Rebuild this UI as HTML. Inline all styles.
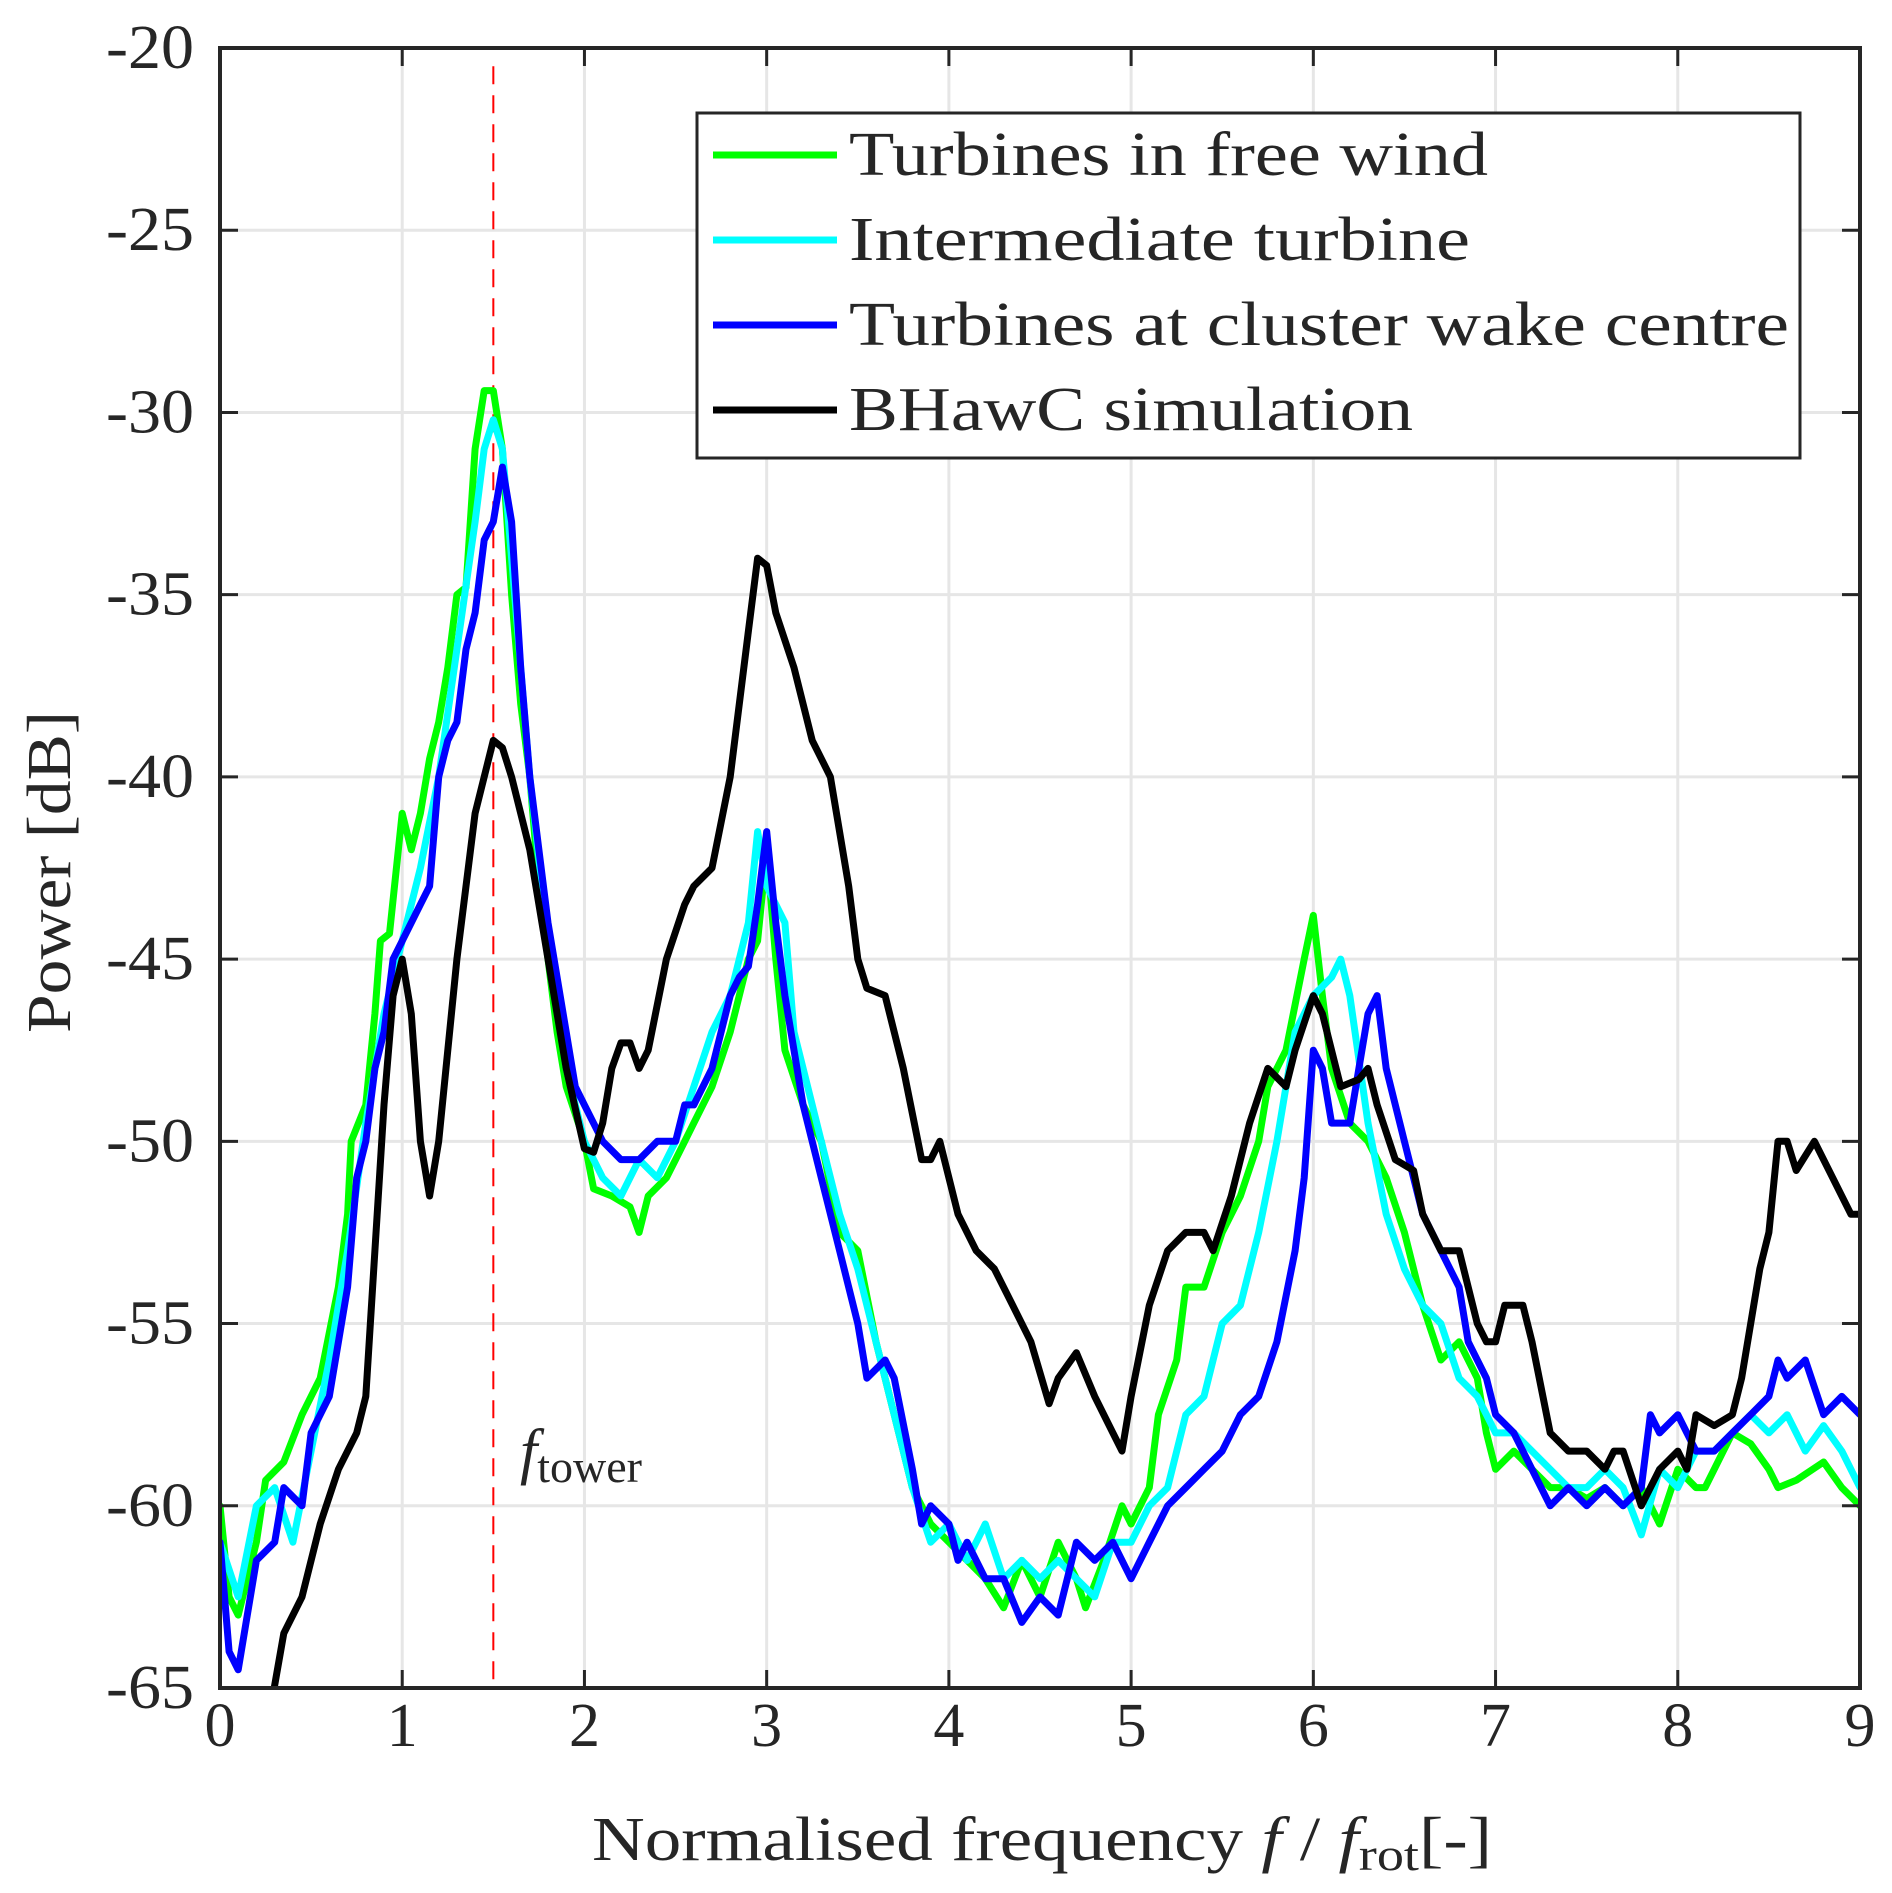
<!DOCTYPE html>
<html><head><meta charset="utf-8"><style>
body{margin:0;background:#fff;width:1892px;height:1888px;overflow:hidden}
svg text{font-family:"Liberation Serif",serif;fill:#262626}
</style></head><body>
<svg id="chart" width="1892" height="1888" xmlns="http://www.w3.org/2000/svg">
<defs><clipPath id="clip"><rect x="220" y="48" width="1640" height="1640"/></clipPath></defs>
<g id="grid"></g>
<g id="series" clip-path="url(#clip)"></g>
<g id="axes"></g>
<text x="520" y="1472" font-size="62" font-style="italic">f<tspan font-style="normal" font-size="46" dy="10">tower</tspan></text>
<text transform="translate(70,872) rotate(-90)" text-anchor="middle" font-size="62" textLength="322" lengthAdjust="spacingAndGlyphs">Power [dB]</text>
<text x="592" y="1860" font-size="62" textLength="900" lengthAdjust="spacingAndGlyphs">Normalised frequency <tspan font-style="italic">f</tspan> / <tspan font-style="italic">f</tspan><tspan font-size="46" dy="10">rot</tspan><tspan dy="-10">[-]</tspan></text>
<g id="legend">
<rect x="697" y="113" width="1103" height="345" fill="#fff" stroke="#262626" stroke-width="3"/>
</g>
</svg>
<script>
const xTicks=[0,1,2,3,4,5,6,7,8,9];
const yTicks=[-20,-25,-30,-35,-40,-45,-50,-55,-60,-65];
const seriesNames=["Turbines in free wind","Intermediate turbine","Turbines at cluster wake centre","BHawC simulation"];
const greenX=[0,0.05,0.1,0.2,0.25,0.35,0.45,0.55,0.65,0.7,0.72,0.8,0.85,0.88,0.93,1.0,1.05,1.1,1.15,1.2,1.25,1.3,1.35,1.4,1.45,1.5,1.55,1.6,1.65,1.7,1.75,1.8,1.85,1.9,2.0,2.05,2.15,2.25,2.3,2.35,2.45,2.5,2.6,2.7,2.8,2.9,2.95,3.0,3.05,3.1,3.2,3.3,3.4,3.5,3.6,3.7,3.8,3.9,4.0,4.1,4.2,4.3,4.4,4.5,4.6,4.7,4.75,4.85,4.95,5.0,5.1,5.15,5.25,5.3,5.4,5.5,5.6,5.7,5.75,5.85,5.95,6.0,6.05,6.1,6.2,6.3,6.4,6.5,6.6,6.7,6.8,6.9,6.95,7.0,7.1,7.2,7.3,7.4,7.5,7.6,7.7,7.8,7.9,8.0,8.1,8.15,8.25,8.3,8.4,8.5,8.55,8.65,8.8,8.9,9.0];
const greenY=[-60,-62.5,-63,-61,-59.3,-58.8,-57.5,-56.5,-54,-52,-50,-49,-46.5,-44.5,-44.3,-41,-42,-41,-39.5,-38.5,-37,-35,-34.8,-31,-29.4,-29.4,-31,-35,-38,-40,-43,-45,-47,-48.5,-50,-51.3,-51.5,-51.8,-52.5,-51.5,-51,-50.5,-49.5,-48.5,-47,-45,-44.5,-42,-45,-47.5,-49,-50,-52.5,-53,-55.5,-57.5,-59.5,-60.5,-61,-61.5,-62,-62.8,-61.5,-62.5,-61,-62,-62.8,-61.5,-60,-60.5,-59.5,-57.5,-56,-54,-54,-52.5,-51.5,-50,-48.5,-47.5,-45,-43.8,-46,-48,-49.5,-50,-51,-52.5,-54.5,-56,-55.5,-56.5,-58,-59,-58.5,-59,-59.5,-59.5,-59.8,-59.5,-60,-59.5,-60.5,-59,-59.5,-59.5,-58.5,-58,-58.3,-59,-59.5,-59.3,-58.8,-59.5,-60];
const cyanX=[0,0.1,0.2,0.3,0.4,0.5,0.6,0.7,0.8,0.9,1.0,1.1,1.2,1.3,1.4,1.45,1.5,1.55,1.6,1.65,1.7,1.8,1.9,2.0,2.1,2.2,2.3,2.4,2.5,2.6,2.7,2.8,2.9,2.95,3.0,3.1,3.15,3.3,3.4,3.5,3.6,3.7,3.8,3.9,4.0,4.1,4.2,4.3,4.4,4.5,4.6,4.7,4.8,4.9,5.0,5.1,5.2,5.3,5.4,5.5,5.6,5.7,5.8,5.9,6.0,6.1,6.15,6.2,6.3,6.4,6.5,6.6,6.7,6.8,6.9,7.0,7.1,7.2,7.3,7.4,7.5,7.6,7.7,7.8,7.9,8.0,8.1,8.2,8.3,8.4,8.5,8.6,8.7,8.8,8.9,9.0];
const cyanY=[-61,-62.5,-60,-59.5,-61,-58.5,-56,-53,-49.5,-46.5,-44.5,-42.5,-40,-36.5,-33,-31,-30.2,-31,-34,-37,-40,-44.5,-48,-50,-51,-51.5,-50.5,-51,-50,-48.5,-47,-46,-44,-41.5,-43,-44,-47,-50,-52,-53.5,-55.5,-57.5,-59.5,-61,-60.5,-61.5,-60.5,-62,-61.5,-62,-61.5,-62,-62.5,-61,-61,-60,-59.5,-57.5,-57,-55,-54.5,-52.5,-50,-47,-46,-45.5,-45,-46,-49.5,-52,-53.5,-54.5,-55,-56.5,-57,-58,-58,-58.5,-59,-59.5,-59.5,-59,-59.5,-60.8,-59,-59.5,-58.5,-58.5,-58,-57.5,-58,-57.5,-58.5,-57.8,-58.5,-59.5];
const blueX=[0,0.05,0.1,0.15,0.2,0.3,0.35,0.45,0.5,0.6,0.7,0.75,0.8,0.85,0.9,0.95,1.0,1.1,1.15,1.2,1.25,1.3,1.35,1.4,1.45,1.5,1.55,1.6,1.65,1.7,1.8,1.9,1.95,2.0,2.1,2.2,2.3,2.4,2.5,2.55,2.6,2.7,2.8,2.85,2.9,2.95,3.0,3.05,3.1,3.2,3.3,3.4,3.5,3.55,3.65,3.7,3.8,3.85,3.9,4.0,4.05,4.1,4.2,4.3,4.4,4.5,4.6,4.7,4.8,4.9,5.0,5.1,5.2,5.3,5.4,5.5,5.6,5.7,5.8,5.9,5.95,6.0,6.05,6.1,6.2,6.25,6.3,6.35,6.4,6.5,6.6,6.7,6.8,6.85,6.95,7.0,7.1,7.2,7.3,7.4,7.5,7.6,7.7,7.8,7.85,7.9,8.0,8.1,8.2,8.3,8.4,8.5,8.55,8.6,8.7,8.8,8.9,9.0];
const blueY=[-61,-64,-64.5,-63,-61.5,-61,-59.5,-60,-58,-57,-54,-51,-50,-48,-47,-45,-44.5,-43.5,-43,-40,-39,-38.5,-36.5,-35.5,-33.5,-33,-31.5,-33,-37,-40,-44,-47,-48.5,-49,-50,-50.5,-50.5,-50,-50,-49,-49,-48,-46,-45.5,-45.2,-43.5,-41.5,-44,-46,-49,-51,-53,-55,-56.5,-56,-56.5,-59,-60.5,-60,-60.5,-61.5,-61,-62,-62,-63.2,-62.5,-63,-61,-61.5,-61,-62,-61,-60,-59.5,-59,-58.5,-57.5,-57,-55.5,-53,-51,-47.5,-48,-49.5,-49.5,-48,-46.5,-46,-48,-50,-52,-53,-54,-55.5,-56.5,-57.5,-58,-59,-60,-59.5,-60,-59.5,-60,-59.5,-57.5,-58,-57.5,-58.5,-58.5,-58,-57.5,-57,-56,-56.5,-56,-57.5,-57,-57.5];
const blackX=[0.28,0.35,0.45,0.55,0.65,0.75,0.8,0.85,0.9,0.95,1.0,1.05,1.1,1.15,1.2,1.3,1.4,1.5,1.55,1.6,1.7,1.8,1.9,2.0,2.05,2.1,2.15,2.2,2.25,2.3,2.35,2.45,2.55,2.6,2.7,2.8,2.9,2.95,3.0,3.05,3.15,3.25,3.35,3.45,3.5,3.55,3.65,3.75,3.85,3.9,3.95,4.05,4.15,4.25,4.35,4.45,4.55,4.6,4.7,4.8,4.9,4.95,5.0,5.1,5.2,5.3,5.4,5.45,5.55,5.65,5.75,5.85,5.9,6.0,6.05,6.15,6.25,6.3,6.35,6.45,6.55,6.6,6.7,6.8,6.9,6.95,7.0,7.05,7.15,7.2,7.3,7.4,7.5,7.6,7.65,7.7,7.8,7.9,8.0,8.05,8.1,8.2,8.3,8.35,8.45,8.5,8.55,8.6,8.65,8.75,8.85,8.95,9.0];
const blackY=[-65.5,-63.5,-62.5,-60.5,-59,-58,-57,-53,-49,-46,-45,-46.5,-50,-51.5,-50,-45,-41,-39,-39.2,-40,-42,-45,-48,-50.2,-50.3,-49.5,-48,-47.3,-47.3,-48,-47.5,-45,-43.5,-43,-42.5,-40,-36,-34,-34.2,-35.5,-37,-39,-40,-43,-45,-45.8,-46,-48,-50.5,-50.5,-50,-52,-53,-53.5,-54.5,-55.5,-57.2,-56.5,-55.8,-57,-58,-58.5,-57,-54.5,-53,-52.5,-52.5,-53,-51.5,-49.5,-48,-48.5,-47.5,-46,-46.5,-48.5,-48.3,-48,-49,-50.5,-50.8,-52,-53,-53,-55,-55.5,-55.5,-54.5,-54.5,-55.5,-58,-58.5,-58.5,-59,-58.5,-58.5,-60,-59,-58.5,-59,-57.5,-57.8,-57.5,-56.5,-53.5,-52.5,-50,-50,-50.8,-50,-51,-52,-52];
const towerFreq=1.5;

const NS="http://www.w3.org/2000/svg";
const L=220,R=1860,T=48,B=1688;
const xs=v=>L+(v-0)/9*(R-L);
const ys=v=>T+(-20-v)/45*(B-T);
function mk(tag,attrs,parent){const e=document.createElementNS(NS,tag);for(const k in attrs)e.setAttribute(k,attrs[k]);parent.appendChild(e);return e;}
const grid=document.getElementById('grid'),axes=document.getElementById('axes'),ser=document.getElementById('series'),leg=document.getElementById('legend');
xTicks.forEach(t=>{
  const g=mk('line',{x1:xs(t),x2:xs(t),y1:T,y2:B,stroke:'#e6e6e6','stroke-width':3},grid);
  
  
  mk('line',{x1:xs(t),x2:xs(t),y1:B,y2:B-18,stroke:'#262626','stroke-width':3},axes);
  mk('line',{x1:xs(t),x2:xs(t),y1:T,y2:T+18,stroke:'#262626','stroke-width':3},axes);
  const tx=mk('text',{x:xs(t),y:B+58,'text-anchor':'middle','font-size':62},axes);
  tx.textContent=t;
  
  
});
yTicks.forEach(t=>{
  const g=mk('line',{x1:L,x2:R,y1:ys(t),y2:ys(t),stroke:'#e6e6e6','stroke-width':3},grid);
  
  
  mk('line',{x1:L,x2:L+18,y1:ys(t),y2:ys(t),stroke:'#262626','stroke-width':3},axes);
  mk('line',{x1:R,x2:R-18,y1:ys(t),y2:ys(t),stroke:'#262626','stroke-width':3},axes);
  const tx=mk('text',{x:L-26,y:ys(t)+20,'text-anchor':'end','font-size':62,textLength:88,lengthAdjust:'spacingAndGlyphs'},axes);
  tx.textContent=t;
  
  
});
const frame=mk('rect',{x:L,y:T,width:R-L,height:B-T,fill:'none',stroke:'#262626','stroke-width':4},axes);


const tl=mk('line',{x1:xs(towerFreq),x2:xs(towerFreq),y1:ys(-20.5),y2:B,stroke:'#ff0000','stroke-width':2,'stroke-dasharray':'18,11'},ser);


const defs=[[greenX,greenY,'#00ff00','free-wind-line'],[cyanX,cyanY,'#00ffff','intermediate-line'],[blueX,blueY,'#0000ff','wake-centre-line'],[blackX,blackY,'#000000','bhawc-line']];
defs.forEach(([X,Y,c,n])=>{
  const d=X.map((x,i)=>(i?'L':'M')+xs(x).toFixed(1)+','+ys(Y[i]).toFixed(1)).join('');
  const p=mk('path',{d:d,fill:'none',stroke:c,'stroke-width':7,'stroke-linejoin':'round','stroke-linecap':'round'},ser);
  
  
});
const legendLens=[639,621,940,564];
seriesNames.forEach((s,i)=>{
  const y=155+i*85;
  const ln=mk('line',{x1:713,x2:837,y1:y,y2:y,stroke:defs[i][2],'stroke-width':7},leg);
  
  
  const tx=mk('text',{x:849,y:y+20,'font-size':62,fill:'#000',textLength:legendLens[i],lengthAdjust:'spacingAndGlyphs'},leg);
  tx.textContent=s;
  
  
});
</script>
</body></html>
